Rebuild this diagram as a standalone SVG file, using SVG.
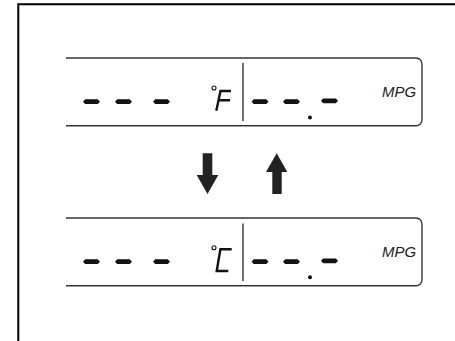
<svg xmlns="http://www.w3.org/2000/svg" width="455" height="341" viewBox="0 0 455 341">
<style>
.frame{fill:none;stroke:#000;stroke-width:2}
.box{fill:none;stroke:#333;stroke-width:1.4}
.div{stroke:#222;stroke-width:1.3}
.seg{fill:#111}
.glyph{fill:none;stroke:#111;stroke-width:2.4;stroke-linejoin:miter}
.deg{fill:none;stroke:#111;stroke-width:1.1}
.mpg{font-family:"Liberation Sans",Arial,sans-serif;font-style:italic;font-size:14px;fill:#222}
.arrow{fill:#222}
</style>
<defs>
<polygon id="dash" points="0,0 2.2,-2.4 14.8,-2.4 17,0 14.8,2.4 2.2,2.4"/>
</defs>
<path class="frame" d="M18.3,341 V4.3 H455"/>
<g id="display-f">
<path class="box" d="M66,58 H416 A6,6 0 0 1 422,64 V119.7 A6,6 0 0 1 416,125.7 H66"/>
<line class="div" x1="243" y1="63" x2="243" y2="121"/>
<use href="#dash" class="seg" x="83" y="101.7"/>
<use href="#dash" class="seg" x="115" y="101.7"/>
<use href="#dash" class="seg" x="153" y="101.7"/>
<circle class="deg" cx="214" cy="88" r="2"/>
<path class="glyph" d="M231,91 H220.5 L216.3,110.8 M219.2,100.2 H230"/>
<use href="#dash" class="seg" x="251.5" y="101.7"/>
<use href="#dash" class="seg" x="283" y="101.7"/>
<circle class="seg" cx="310" cy="117.5" r="2"/>
<use href="#dash" class="seg" x="321" y="100.8"/>
<text class="mpg" x="382" y="97" textLength="34" lengthAdjust="spacingAndGlyphs">MPG</text>
</g>
<g id="display-c">
<path class="box" d="M66,218 H416 A6,6 0 0 1 422,224 V279.7 A6,6 0 0 1 416,285.7 H66"/>
<line class="div" x1="243" y1="223.5" x2="243" y2="281"/>
<use href="#dash" class="seg" x="83" y="261.7"/>
<use href="#dash" class="seg" x="115" y="261.7"/>
<use href="#dash" class="seg" x="153" y="261.7"/>
<circle class="deg" cx="214" cy="247.7" r="2"/>
<path class="glyph" d="M231.7,249.3 H220.4 L216.7,271 H228.3"/>
<use href="#dash" class="seg" x="251.5" y="261.7"/>
<use href="#dash" class="seg" x="283" y="261.7"/>
<circle class="seg" cx="310" cy="277.3" r="2"/>
<use href="#dash" class="seg" x="321" y="260.8"/>
<text class="mpg" x="382" y="256.5" textLength="34" lengthAdjust="spacingAndGlyphs">MPG</text>
</g>
<g id="connectors">
<polygon id="arrow-down" class="arrow" points="202.7,153.3 212.3,153.3 212.3,175 218.3,175 207.5,194 196.7,175 202.7,175"/>
<polygon id="arrow-up" class="arrow" points="276.7,153.3 287.3,172 281.7,172 281.7,194 272.3,194 272.3,172 266,172"/>
</g>
</svg>
